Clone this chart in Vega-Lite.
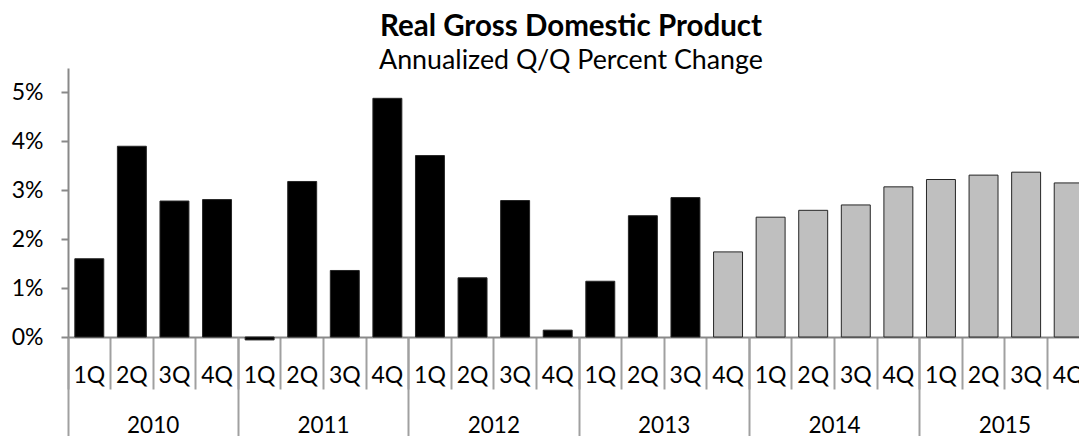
{
  "$schema": "https://vega.github.io/schema/vega-lite/v6.json",
  "width": 1022,
  "height": 269,
  "autosize": {"type": "none"},
  "padding": {"left": 68, "top": 68, "right": -11, "bottom": 99},
  "background": "white",
  "title": {
    "text": "Real Gross Domestic Product",
    "subtitle": "Annualized Q/Q Percent Change",
    "font": "Lato",
    "fontSize": 29.5,
    "fontWeight": "bold",
    "subtitleFont": "Lato",
    "subtitleFontSize": 26.8,
    "color": "#000000",
    "subtitleColor": "#000000",
    "anchor": "middle",
    "dx": -8,
    "offset": -8,
    "subtitlePadding": 6
  },
  "data": {
    "values": [
      {"period": "2010 1Q", "year": "2010", "kind": "actual", "value": 1.6},
      {"period": "2010 2Q", "year": "2010", "kind": "actual", "value": 3.9},
      {"period": "2010 3Q", "year": "2010", "kind": "actual", "value": 2.78},
      {"period": "2010 4Q", "year": "2010", "kind": "actual", "value": 2.81},
      {"period": "2011 1Q", "year": "2011", "kind": "actual", "value": -0.06},
      {"period": "2011 2Q", "year": "2011", "kind": "actual", "value": 3.18},
      {"period": "2011 3Q", "year": "2011", "kind": "actual", "value": 1.36},
      {"period": "2011 4Q", "year": "2011", "kind": "actual", "value": 4.88},
      {"period": "2012 1Q", "year": "2012", "kind": "actual", "value": 3.71},
      {"period": "2012 2Q", "year": "2012", "kind": "actual", "value": 1.21},
      {"period": "2012 3Q", "year": "2012", "kind": "actual", "value": 2.79},
      {"period": "2012 4Q", "year": "2012", "kind": "actual", "value": 0.14},
      {"period": "2013 1Q", "year": "2013", "kind": "actual", "value": 1.14},
      {"period": "2013 2Q", "year": "2013", "kind": "actual", "value": 2.48},
      {"period": "2013 3Q", "year": "2013", "kind": "actual", "value": 2.85},
      {"period": "2013 4Q", "year": "2013", "kind": "forecast", "value": 1.74},
      {"period": "2014 1Q", "year": "2014", "kind": "forecast", "value": 2.45},
      {"period": "2014 2Q", "year": "2014", "kind": "forecast", "value": 2.59},
      {"period": "2014 3Q", "year": "2014", "kind": "forecast", "value": 2.7},
      {"period": "2014 4Q", "year": "2014", "kind": "forecast", "value": 3.07},
      {"period": "2015 1Q", "year": "2015", "kind": "forecast", "value": 3.22},
      {"period": "2015 2Q", "year": "2015", "kind": "forecast", "value": 3.31},
      {"period": "2015 3Q", "year": "2015", "kind": "forecast", "value": 3.37},
      {"period": "2015 4Q", "year": "2015", "kind": "forecast", "value": 3.15}
    ]
  },
  "layer": [
    {
      "mark": {"type": "bar", "width": {"band": 0.68}, "stroke": "#262626", "strokeWidth": 1},
      "encoding": {
        "x": {
          "field": "period",
          "type": "nominal",
          "sort": null,
          "scale": {"paddingInner": 0, "paddingOuter": 0},
          "axis": {
            "title": null,
            "orient": "bottom",
            "bandPosition": 0,
            "domainColor": "#898989",
            "domainWidth": 2,
            "tickColor": "#a0a0a0",
            "tickWidth": 2,
            "tickSize": 52,
            "labelExpr": "slice(datum.value, 5)",
            "labelFont": "Lato",
            "labelFontSize": 23,
            "labelColor": "#000000",
            "labelPadding": -25,
            "labelAngle": 0,
            "labelOverlap": false,
            "labelBound": false,
            "labelFlush": false
          }
        },
        "y": {
          "field": "value",
          "type": "quantitative",
          "scale": {"domain": [0, 5.5], "nice": false},
          "axis": {
            "title": null,
            "values": [0, 1, 2, 3, 4, 5],
            "labelExpr": "datum.value + '%'",
            "grid": false,
            "domainColor": "#898989",
            "domainWidth": 2,
            "tickColor": "#898989",
            "tickWidth": 2,
            "tickSize": 7,
            "labelFont": "Lato",
            "labelFontSize": 23,
            "labelColor": "#000000",
            "labelPadding": 18
          }
        },
        "color": {
          "field": "kind",
          "type": "nominal",
          "scale": {"domain": ["actual", "forecast"], "range": ["#000000", "#bfbfbf"]},
          "legend": null
        }
      }
    },
    {
      "mark": {"type": "rule", "opacity": 0},
      "encoding": {
        "x": {
          "field": "year",
          "type": "nominal",
          "scale": {"type": "band", "paddingInner": 0, "paddingOuter": 0},
          "axis": {
            "title": null,
            "orient": "bottom",
            "offset": 0,
            "domain": false,
            "bandPosition": 0,
            "tickColor": "#a0a0a0",
            "tickWidth": 2,
            "tickSize": 99,
            "labelFont": "Lato",
            "labelFontSize": 22.5,
            "labelColor": "#000000",
            "labelPadding": -22,
            "labelAngle": 0,
            "labelOverlap": false,
            "labelBound": false,
            "labelFlush": false
          }
        }
      }
    }
  ],
  "resolve": {"scale": {"x": "independent"}, "axis": {"x": "independent"}},
  "config": {"view": {"stroke": null}}
}
